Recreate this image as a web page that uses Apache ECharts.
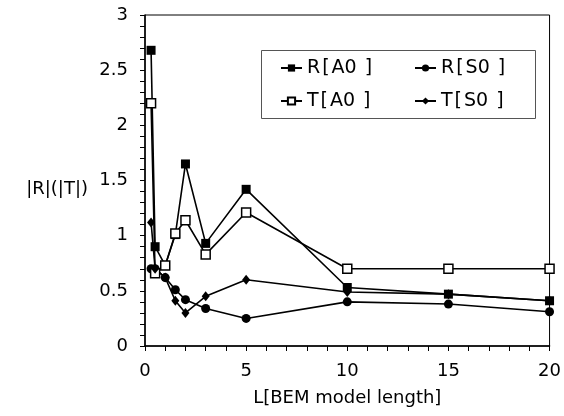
<!DOCTYPE html>
<html>
<head>
<meta charset="utf-8">
<script src="https://cdn.jsdelivr.net/npm/echarts@6/dist/echarts.min.js"></script>
<style>html,body{margin:0;padding:0;background:#fff}#c{width:564px;height:416px}</style>
</head>
<body>
<div id="c"></div>
<script>
const xValues = [0.3, 0.5, 1, 1.5, 2, 3, 5, 10, 15, 20];
const RA0 = [2.68, 0.90, 0.73, 1.01, 1.65, 0.93, 1.42, 0.53, 0.47, 0.41];
const TA0 = [2.20, 0.66, 0.73, 1.02, 1.14, 0.83, 1.21, 0.70, 0.70, 0.70];
const RS0 = [0.70, 0.70, 0.62, 0.51, 0.42, 0.34, 0.25, 0.40, 0.38, 0.31];
const TS0 = [1.12, 0.70, 0.62, 0.41, 0.30, 0.45, 0.60, 0.49, 0.47, 0.41];
const seriesNames = ['R[A0]', 'R[S0]', 'T[A0]', 'T[S0]'];
const xTitle = 'L[BEM model length]';
const yTitle = '|R|(|T|)';

const font = 'DejaVu Sans, Liberation Sans, sans-serif';
const pair = ys => xValues.map((x, i) => [x, ys[i]]);

function mk(name, ys, symbol, size, fill) {
  return {
    name, type: 'line', data: pair(ys), symbol, symbolSize: size,
    lineStyle: { color: '#000', width: 1.6 },
    itemStyle: { color: fill, borderColor: '#000', borderWidth: fill === '#fff' ? 1.5 : 0 },
    emphasis: { disabled: true }, animation: false
  };
}

const legendRich = {
  t: { fontFamily: font, fontSize: 19, color: '#000' },
  o: { fontFamily: font, fontSize: 19, color: '#000', padding: [0, 2, 0, 2] },
  c: { fontFamily: font, fontSize: 19, color: '#000', padding: [0, 0, 0, 8] }
};

const chart = echarts.init(document.getElementById('c'), null, { renderer: 'canvas' });
chart.setOption({
  animation: false,
  backgroundColor: '#fff',
  grid: { left: 145, right: 11, top: 15, bottom: 70, show: true, borderColor: '#000', borderWidth: 1, backgroundColor: 'transparent' },
  legend: {
    data: seriesNames,
    left: 280, top: 58, width: 300,
    orient: 'horizontal',
    itemGap: 13, itemWidth: 21, itemHeight: 9,
    formatter: name => {
      const m = name.match(/^(.*)\[(.*)\]$/);
      return '{t|' + m[1] + '}{o|[}{t|' + m[2] + '}{c|]}';
    },
    textStyle: { fontFamily: font, fontSize: 19, color: '#000', width: 94, lineHeight: 20, rich: legendRich },
    padding: 0
  },
  graphic: [{
    type: 'rect', left: 259, top: 48,
    shape: { width: 274, height: 68 },
    style: { fill: 'none', stroke: '#555', lineWidth: 1 }, silent: true
  }],
  xAxis: {
    type: 'value', min: 0, max: 20, interval: 5,
    name: xTitle, nameLocation: 'middle', nameGap: 43,
    nameTextStyle: { fontFamily: font, fontSize: 18, color: '#000' },
    axisLine: { lineStyle: { color: '#000', width: 1.5 } },
    axisTick: { show: true, length: 5, lineStyle: { color: '#000' } },
    minorTick: { show: true, splitNumber: 5, length: 5, lineStyle: { color: '#000' } },
    splitLine: { show: false },
    axisLabel: { fontFamily: font, fontSize: 18, color: '#000', margin: 16 }
  },
  yAxis: {
    type: 'value', min: 0, max: 3, interval: 0.5,
    name: yTitle, nameLocation: 'middle', nameGap: 57, nameRotate: 0,
    nameTextStyle: { fontFamily: font, fontSize: 18, color: '#000', verticalAlign: 'top', lineHeight: 18 },
    axisLine: { lineStyle: { color: '#000', width: 1.5 } },
    axisTick: { show: true, length: 5, lineStyle: { color: '#000' } },
    minorTick: { show: true, splitNumber: 5, length: 5, lineStyle: { color: '#000' } },
    splitLine: { show: false },
    axisLabel: { fontFamily: font, fontSize: 18, color: '#000', margin: 17 }
  },
  series: [
    mk(seriesNames[0], RA0, 'rect', 9, '#000'),
    mk(seriesNames[1], RS0, 'circle', 9, '#000'),
    mk(seriesNames[2], TA0, 'rect', 9, '#fff'),
    mk(seriesNames[3], TS0, 'diamond', [8, 10], '#000')
  ]
});
</script>
</body>
</html>
